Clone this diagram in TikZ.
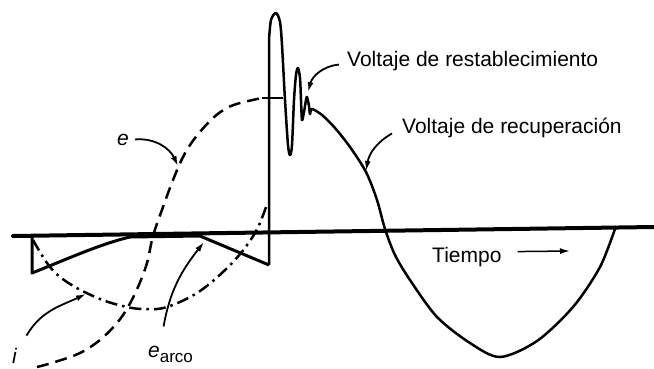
\documentclass[tikz,border=0pt]{standalone}
\usepackage{fontspec}
\setmainfont{Liberation Sans}
\usetikzlibrary{arrows.meta}
\tikzset{
	axisline/.style={line width=4pt, line cap=round},
	volt/.style={line width=2.5pt, line join=round},
	evolt/.style={volt, dash pattern=on 12pt off 7pt},
	icur/.style={volt, dash pattern=on 12pt off 5pt on 2.5pt off 5pt},
	arcline/.style={line width=3pt, line join=round},
	lbl/.style={font=\fontsize{21}{24}\selectfont, inner sep=2pt},
	lblarr/.style={line width=1.8pt, -{Latex[length=10pt, width=6pt]}},
}

\begin{document}
\begin{tikzpicture}[x=1pt, y=-1pt]
	\useasboundingbox (0,0) rectangle (654,368);
	% eje
	\coordinate (ax0) at (13,236);
	\coordinate (ax1) at (654,227);
	\draw[axisline] (ax0) -- (ax1);
	% tension e (trazos)
	\draw[evolt] plot[smooth, tension=0.6] coordinates {(37,367) (55,362) (80,353) (100,340) (117,323) (128,307) (138,287) (147,263) (153,236) (163,207) (173,180) (183,157) (195,138) (213,118) (227,108) (240,103) (262,98)};
	\draw[volt] (262,98) -- (283,98);
	% corriente i (trazo y punto)
	\draw[icur] plot[smooth, tension=0.6] coordinates {(33,240) (50,267) (70,284) (100,299) (127,307) (145,309) (167,307) (200,291) (233,262) (255,233) (266,207)};
	% tension de arco
	\coordinate (brk) at (269,265);
	\draw[arcline] (32,236) -- (32,273) .. controls (65,260) and (100,244) .. (130,237) -- (200,236) -- (brk);
	% restablecimiento y recuperacion
	\draw[volt] (brk) -- plot[smooth, tension=0.5] coordinates {(269,40) (271,20) (276,13) (280,22) (282,45) (285,100) (288,145) (290,155) (292,145) (294,100) (296,75) (298,68) (300,78) (301,100) (302,120) (304,112) (306,100) (307,97) (309,106) (310,114) (312,109) (322,115) (335,128) (350,147) (366,172) (377,200) (385,229) (395,255) (410,280) (437,317) (470,343) (500,357) (537,341) (573,307) (600,267) (616,226)};
	% etiquetas
	\node[lbl, anchor=base west] (elbl) at (115,145) {\textit{e}};
	\node[lbl, anchor=base west] (ilbl) at (10,363) {\textit{i}};
	\node[lbl, anchor=base west] (arcolbl) at (146,357) {\textit{e}\raisebox{-5pt}{\fontsize{17}{20}\selectfont arco}};
	\node[lbl, anchor=base west] (rest) at (345,66) {Voltaje de restablecimiento};
	\node[lbl, anchor=base west] (recu) at (400,133) {Voltaje de recuperación};
	\node[lbl, anchor=base west] (tiem) at (430,262) {Tiempo};
	\coordinate (epnt) at (178,166);
	\coordinate (ipnt) at (86,294);
	\coordinate (arcopnt) at (204,242);
	\coordinate (restpnt) at (308,92);
	\coordinate (recupnt) at (366,171);
	\coordinate (tend) at (570,251);
	\draw[lblarr] ([xshift=4pt]elbl.east) to[out=5, in=115] (epnt);
	\draw[lblarr] ([xshift=7pt, yshift=10pt]ilbl.north east) to[out=60, in=205] (ipnt);
	\draw[lblarr] ([xshift=-7pt, yshift=17pt]arcolbl.north) to[out=80, in=232] (arcopnt);
	\draw[lblarr] ([xshift=-6pt, yshift=-4pt]rest.west) to[out=185, in=75] (restpnt);
	\draw[lblarr] ([xshift=-8pt, yshift=-6pt]recu.west) to[out=210, in=80] (recupnt);
	\draw[lblarr, line width=1.5pt] ([xshift=14pt, yshift=5pt]tiem.east) -- (tend);
\end{tikzpicture}
\end{document}
